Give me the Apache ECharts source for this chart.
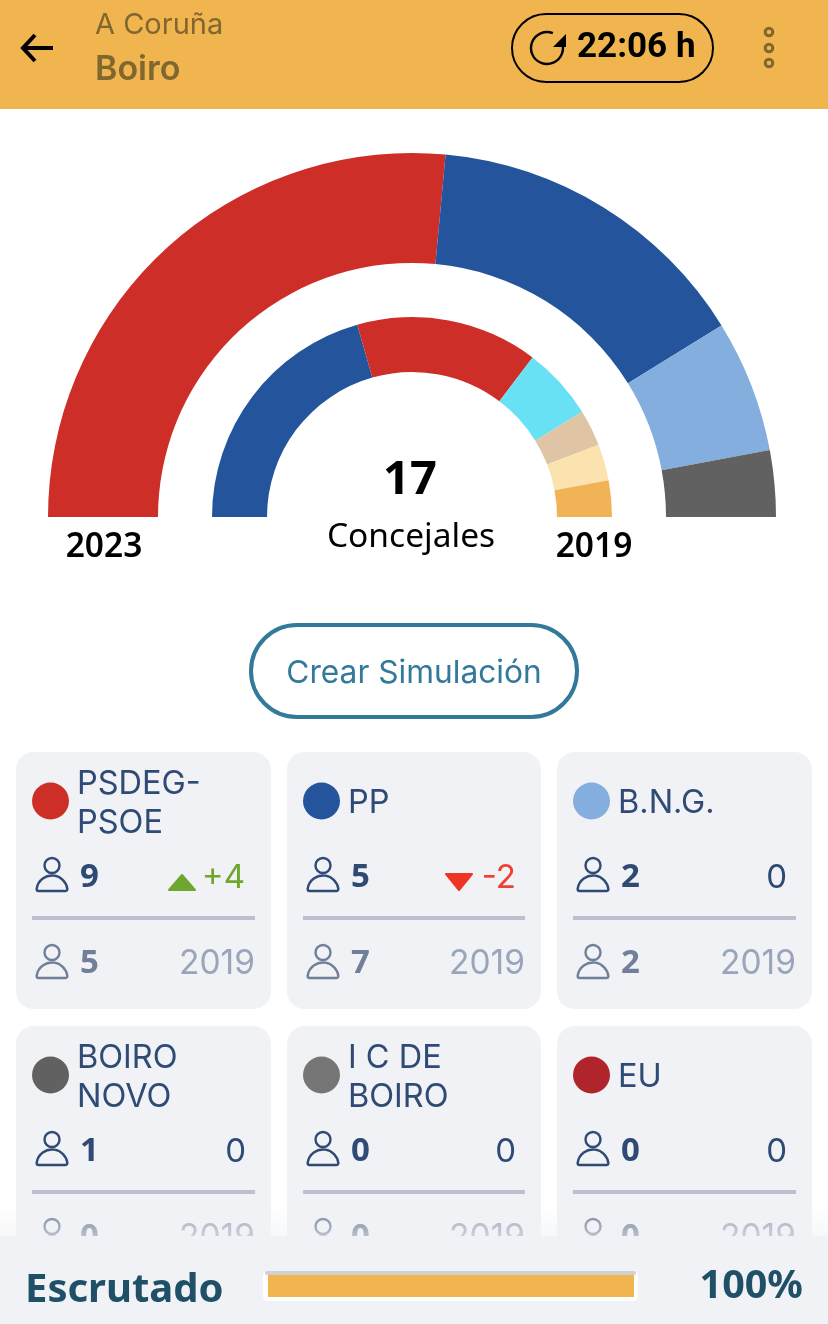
<!DOCTYPE html>
<html>
<head>
<meta charset="utf-8">
<title>Boiro</title>
<style>
  html, body { margin: 0; padding: 0; background: #fff; }
  #chart { width: 828px; height: 1324px; }
</style>
</head>
<body>
<div id="chart"></div>
<script src="https://cdn.jsdelivr.net/npm/echarts@6/dist/echarts.min.js"></script>
<script>
// anillo exterior 2023
var names2023 = ['PSDEG-PSOE', 'PP', 'B.N.G.', 'BOIRO NOVO'];
var values2023 = [9, 5, 2, 1];
var colors2023 = ['#ce2e28', '#23549c', '#83aedd', '#616161'];

// anillo interior 2019
var names2019 = ['PP', 'PSDEG-PSOE', 'B.N.G.', 'Otro 1', 'Otro 2', 'Otro 3'];
var values2019 = [7, 5, 2, 1, 1, 1];
var colors2019 = ['#23549c', '#ce2e28', '#69e1f5', '#dfc5a6', '#fae3ae', '#f0b355'];

// tarjetas
var cardNames = [['PSDEG-', 'PSOE'], ['PP'], ['B.N.G.'], ['BOIRO', 'NOVO'], ['I C DE', 'BOIRO'], ['EU']];
var cardColors = ['#ce2e28', '#23549c', '#83aedd', '#616161', '#767676', '#b0242b'];
var cardSeats = [9, 5, 2, 1, 0, 0];
var cardPrev = [5, 7, 2, 0, 0, 0];
var cardDiff = [4, -2, 0, 0, 0, 0];

var scrutinized = [100];

var UI_FONT = 'Inter, "Noto Sans", sans-serif';
var HEAD_FONT = '"Noto Sans", sans-serif';
var NAVY = '#2e4a75';

var els = [];

function text(str, x, y, font, fill, align, z) {
  els.push({
    type: 'text', z: z || 3, silent: true,
    style: { text: str, x: x, y: y + 2, font: font, fill: fill, textAlign: align || 'left', textVerticalAlign: 'middle' }
  });
}

function person(cx, top, color) {
  els.push({
    type: 'circle', z: 3, silent: true,
    shape: { cx: cx, cy: top + 7.5, r: 7.5 },
    style: { fill: 'none', stroke: color, lineWidth: 2.4 }
  });
  els.push({
    type: 'sector', z: 3, silent: true,
    shape: { cx: cx, cy: top + 33, r0: 0, r: 15.5, startAngle: Math.PI, endAngle: Math.PI * 2, cornerRadius: 2 },
    style: { fill: 'none', stroke: color, lineWidth: 2.4 }
  });
}

function card(i) {
  var col = i % 3;
  var x = [16, 287, 557][col];
  var right = [271, 541, 812][col];
  var y = i < 3 ? 752 : 1026;

  els.push({
    type: 'rect', z: 1, silent: true,
    shape: { x: x, y: y, width: right - x, height: 257, r: 18 },
    style: { fill: '#f0f2f5' }
  });
  els.push({
    type: 'circle', z: 3, silent: true,
    shape: { cx: x + 34.5, cy: y + 49, r: 18.5 },
    style: { fill: cardColors[i] }
  });
  var lines = cardNames[i];
  if (lines.length > 1) {
    text(lines[0], x + 61, y + 30, '32.5px ' + UI_FONT, NAVY);
    text(lines[1], x + 61, y + 69, '32.5px ' + UI_FONT, NAVY);
  } else {
    text(lines[0], x + 61, y + 49, '32.5px ' + UI_FONT, NAVY);
  }

  person(x + 36, y + 106, NAVY);
  text(String(cardSeats[i]), x + 64, y + 124, 'bold 33px ' + HEAD_FONT, NAVY);

  var d = cardDiff[i];
  var dx = right - 26;
  if (d > 0) {
    text('+' + d, dx, y + 124, '33px ' + UI_FONT, '#6fa72e', 'right');
    els.push({
      type: 'polygon', z: 3, silent: true,
      shape: { points: [[dx - 63, y + 123], [dx - 50, y + 138], [dx - 76, y + 138]] },
      style: { fill: '#6fa72e', stroke: '#6fa72e', lineWidth: 2, lineJoin: 'round' }
    });
  } else if (d < 0) {
    text(String(d), dx + 1, y + 124, '33px ' + UI_FONT, '#ee4035', 'right');
    els.push({
      type: 'polygon', z: 3, silent: true,
      shape: { points: [[dx - 69, y + 122], [dx - 43, y + 122], [dx - 56, y + 138]] },
      style: { fill: '#ee3524', stroke: '#ee3524', lineWidth: 2, lineJoin: 'round' }
    });
  } else {
    text(String(d), dx + 1, y + 124, '33px ' + UI_FONT, NAVY, 'right');
  }

  els.push({
    type: 'rect', z: 3, silent: true,
    shape: { x: x + 16, y: y + 164, width: right - x - 32, height: 4 },
    style: { fill: '#bcc0ce' }
  });

  person(x + 36, y + 193, '#717f99');
  text(String(cardPrev[i]), x + 64, y + 210, 'bold 33px ' + HEAD_FONT, '#717f99');
  text('2019', right - 16, y + 210, '33.5px ' + UI_FONT, '#9aa5ba', 'right');
}

// cabecera
els.push({ type: 'rect', z: 1, silent: true, shape: { x: 0, y: 0, width: 828, height: 109 }, style: { fill: '#f0b54e' } });
els.push({
  type: 'polyline', z: 3, silent: true,
  shape: { points: [[35, 35], [23, 48], [35, 61]] },
  style: { fill: 'none', stroke: '#000', lineWidth: 4 }
});
els.push({ type: 'line', z: 3, silent: true, shape: { x1: 25, y1: 48, x2: 53, y2: 48 }, style: { stroke: '#000', lineWidth: 4 } });
text('A Coruña', 95, 23, '29px ' + UI_FONT, '#80662f');
text('Boiro', 95, 68, '600 34px ' + UI_FONT, '#80662f');
els.push({
  type: 'rect', z: 3, silent: true,
  shape: { x: 512, y: 14, width: 201, height: 68, r: 34 },
  style: { fill: 'none', stroke: '#000', lineWidth: 2 }
});
els.push({
  type: 'arc', z: 3, silent: true,
  shape: { cx: 547, cy: 48, r: 16, startAngle: -Math.PI * 0.38, endAngle: -Math.PI * 0.03, clockwise: false },
  style: { fill: 'none', stroke: '#000', lineWidth: 2.4 }
});
els.push({
  type: 'polygon', z: 3, silent: true,
  shape: { points: [[566, 34], [566, 47], [553, 47]] },
  style: { fill: '#000' }
});
text('22:06 h', 577, 46, 'bold 35px Roboto, ' + UI_FONT, '#000');
[32, 48, 63].forEach(function (cy) {
  els.push({
    type: 'circle', z: 3, silent: true,
    shape: { cx: 769, cy: cy, r: 3.8 },
    style: { fill: 'none', stroke: '#80662f', lineWidth: 3 }
  });
});

// textos del hemiciclo
text('2023', 104, 545, '600 33.5px ' + HEAD_FONT, '#000', 'center');
text('2019', 594, 545, '600 33.5px ' + HEAD_FONT, '#000', 'center');
text('17', 410, 479, 'bold 47px ' + HEAD_FONT, '#000', 'center');
text('Concejales', 411, 535, '33.5px ' + HEAD_FONT, '#000', 'center');

// boton simulacion
els.push({
  type: 'rect', z: 3, silent: true,
  shape: { x: 251, y: 625, width: 326, height: 92, r: 46 },
  style: { fill: '#fff', stroke: '#32799a', lineWidth: 4 }
});
text('Crear Simulación', 414, 671, '31.7px ' + UI_FONT, '#32799a', 'center', 4);

for (var i = 0; i < cardNames.length; i++) card(i);

// barra inferior
els.push({
  type: 'rect', z: 10, silent: true,
  shape: { x: 0, y: 1206, width: 828, height: 30 },
  style: {
    fill: { type: 'linear', x: 0, y: 0, x2: 0, y2: 1, colorStops: [
      { offset: 0, color: 'rgba(240,242,245,0)' }, { offset: 1, color: 'rgba(240,242,245,0.55)' }
    ] }
  }
});
els.push({ type: 'rect', z: 10, silent: true, shape: { x: 0, y: 1236, width: 828, height: 88 }, style: { fill: '#f0f2f5' } });
els.push({
  type: 'rect', z: 11, silent: true,
  shape: { x: 263, y: 1271, width: 375, height: 30, r: 5 },
  style: { fill: '#fff' }
});
els.push({
  type: 'rect', z: 11, silent: true,
  shape: { x: 265, y: 1271, width: 371, height: 4, r: 2 },
  style: { fill: '#cfd0d2' }
});
text('Escrutado', 25, 1289, 'bold 40px ' + HEAD_FONT, '#1f5068', 'left', 12);
text(scrutinized[0] + '%', 803, 1285, 'bold 39.5px ' + HEAD_FONT, '#1f5068', 'right', 12);

function ring(names, values, colors, radius) {
  return {
    type: 'pie',
    center: [412, 517],
    radius: radius,
    startAngle: 180,
    endAngle: 360,
    silent: true,
    animation: false,
    label: { show: false },
    labelLine: { show: false },
    data: values.map(function (v, i) {
      return { name: names[i], value: v, itemStyle: { color: colors[i] } };
    })
  };
}

var chart = echarts.init(document.getElementById('chart'), null, { width: 828, height: 1324, renderer: 'canvas' });
chart.setOption({
  animation: false,
  backgroundColor: '#fff',
  grid: { left: 268, top: 1275, width: 366, height: 22 },
  xAxis: { type: 'value', min: 0, max: 100, show: false },
  yAxis: { type: 'category', data: ['Escrutado'], show: false },
  graphic: { elements: els },
  series: [
    ring(names2023, values2023, colors2023, [254, 364]),
    ring(names2019, values2019, colors2019, [145, 200]),
    {
      type: 'bar',
      z: 20,
      silent: true,
      barWidth: '100%',
      itemStyle: { color: '#f0b54e' },
      data: scrutinized
    }
  ]
});
</script>
</body>
</html>
